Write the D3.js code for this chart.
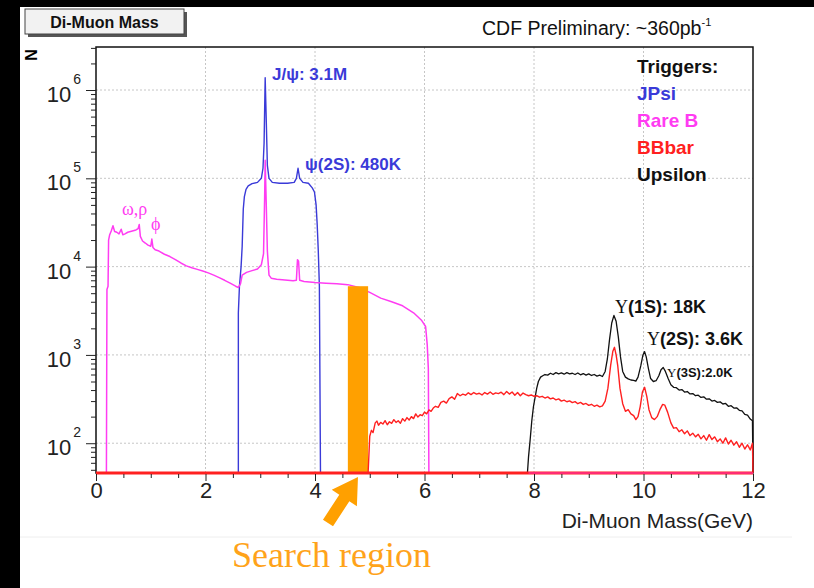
<!DOCTYPE html>
<html>
<head>
<meta charset="utf-8">
<script src="https://cdn.jsdelivr.net/npm/d3@7"></script>
<style>
body { margin: 0; background: #fff; }
svg { display: block; }
text { font-family: "Liberation Sans", Arial, sans-serif; }
</style>
</head>
<body>
<div id="chart"></div>
<script>
// ---- data: [mass GeV, entries per bin] ----
var jpsi = [[0,0],[2.6,0],[2.6,3000],[2.62,6000],[2.65,10000],[2.67,17000],[2.69,45000],[2.71,62000],[2.74,75000],[2.78,82000],[2.85,87000],[2.95,90000],[3.02,100000],[3.05,130000],[3.07,250000],[3.09,1380000],[3.11,450000],[3.13,140000],[3.16,100000],[3.22,90000],[3.35,88000],[3.5,88000],[3.62,90000],[3.66,100000],[3.69,130000],[3.72,100000],[3.78,90000],[3.88,88000],[3.95,78000],[3.99,70000],[4.02,50000],[4.04,30000],[4.06,15000],[4.08,6000],[4.1,0],[12,0]];

var rareB = [[0,0],[0.19,0],[0.2,5500],[0.22,6000],[0.23,20000],[0.25,23000],[0.28,25500],[0.31,29000],[0.34,25000],[0.38,24500],[0.42,23500],[0.46,26500],[0.49,23000],[0.53,23500],[0.58,24500],[0.63,25000],[0.68,25500],[0.73,26000],[0.77,27000],[0.79,30000],[0.81,22000],[0.85,19500],[0.9,18500],[0.95,17500],[1.0,17000],[1.02,20500],[1.04,16500],[1.08,15500],[1.15,15000],[1.25,13800],[1.35,13000],[1.45,12000],[1.55,11000],[1.65,10200],[1.75,9700],[1.85,9300],[1.95,8900],[2.05,8500],[2.15,8000],[2.25,7500],[2.35,7000],[2.45,6500],[2.55,6000],[2.6,5800],[2.64,6400],[2.67,8000],[2.75,8600],[2.85,9000],[2.95,9400],[3.02,10500],[3.06,14000],[3.08,60000],[3.09,160000],[3.11,50000],[3.13,15000],[3.16,8000],[3.2,7400],[3.3,7200],[3.4,7100],[3.5,7000],[3.6,6900],[3.66,7000],[3.68,12000],[3.7,11500],[3.72,7000],[3.8,6800],[3.9,6700],[4.0,6600],[4.2,6500],[4.4,6400],[4.6,6250],[4.8,5800],[5.0,5100],[5.2,4400],[5.4,4000],[5.6,3600],[5.8,3000],[5.95,2450],[6.02,2100],[6.05,1300],[6.07,700],[6.08,0],[12,0]];

var bbbar = [[0,0],[4.97,0],[5.0,120],[5.03,140],[5.06,132],[5.1,170],[5.13,178],[5.16,160],[5.2,172],[5.24,165],[5.28,180],[5.32,162],[5.36,175],[5.4,168],[5.44,185],[5.48,172],[5.52,180],[5.56,168],[5.6,190],[5.64,178],[5.68,195],[5.72,183],[5.76,200],[5.8,190],[5.84,215],[5.88,198],[5.92,210],[5.96,205],[6.0,225],[6.04,215],[6.08,238],[6.12,230],[6.16,250],[6.2,262],[6.25,255],[6.3,290],[6.35,300],[6.4,285],[6.45,320],[6.5,335],[6.55,315],[6.6,365],[6.65,345],[6.7,360],[6.75,350],[6.8,372],[6.85,355],[6.9,375],[6.95,360],[7.0,368],[7.05,352],[7.1,375],[7.15,360],[7.2,380],[7.25,358],[7.3,372],[7.35,365],[7.4,378],[7.45,355],[7.5,385],[7.55,360],[7.6,380],[7.65,350],[7.7,375],[7.75,345],[7.8,370],[7.85,355],[7.9,345],[7.95,352],[8.0,340],[8.05,345],[8.1,332],[8.15,340],[8.2,325],[8.25,335],[8.3,318],[8.35,325],[8.4,310],[8.45,318],[8.5,300],[8.55,308],[8.6,295],[8.65,302],[8.7,288],[8.75,296],[8.8,280],[8.85,290],[8.9,275],[8.95,282],[9.0,268],[9.05,276],[9.1,262],[9.15,270],[9.2,258],[9.25,265],[9.3,300],[9.35,420],[9.4,760],[9.44,1100],[9.47,1220],[9.5,1000],[9.53,750],[9.57,420],[9.62,280],[9.67,230],[9.72,240],[9.77,215],[9.82,205],[9.86,185],[9.9,200],[9.94,260],[9.98,380],[10.02,430],[10.06,340],[10.1,240],[10.15,195],[10.2,185],[10.25,200],[10.3,240],[10.35,275],[10.39,270],[10.44,225],[10.5,170],[10.55,148],[10.6,150],[10.65,135],[10.7,142],[10.75,128],[10.8,138],[10.85,122],[10.9,130],[10.95,118],[11.0,126],[11.05,112],[11.1,122],[11.15,108],[11.2,125],[11.25,110],[11.3,118],[11.35,104],[11.4,112],[11.45,100],[11.5,115],[11.55,98],[11.6,108],[11.65,95],[11.7,104],[11.75,90],[11.8,100],[11.85,86],[11.9,96],[11.95,84],[11.99,100],[12,0]];

var upsilon = [[0,0],[7.88,0],[7.9,70],[7.93,110],[7.96,180],[7.99,260],[8.02,330],[8.05,420],[8.08,500],[8.12,560],[8.16,580],[8.2,600],[8.25,590],[8.3,620],[8.35,600],[8.4,630],[8.45,610],[8.5,625],[8.55,605],[8.6,630],[8.65,610],[8.7,620],[8.75,600],[8.8,625],[8.85,595],[8.9,615],[8.95,590],[9.0,610],[9.05,585],[9.1,600],[9.15,575],[9.2,590],[9.25,570],[9.3,650],[9.34,900],[9.38,1500],[9.42,2300],[9.46,2800],[9.5,2400],[9.54,1600],[9.58,950],[9.62,650],[9.67,560],[9.72,535],[9.77,520],[9.82,515],[9.86,505],[9.9,560],[9.95,750],[9.99,1000],[10.02,1090],[10.05,950],[10.09,700],[10.13,540],[10.18,500],[10.23,510],[10.28,580],[10.32,680],[10.36,720],[10.4,650],[10.45,540],[10.5,460],[10.55,430],[10.6,425],[10.65,400],[10.7,405],[10.75,380],[10.8,385],[10.85,362],[10.9,365],[10.95,345],[11.0,350],[11.05,330],[11.1,335],[11.15,315],[11.2,318],[11.25,300],[11.3,305],[11.35,290],[11.4,294],[11.45,278],[11.5,282],[11.55,262],[11.6,266],[11.65,250],[11.7,252],[11.75,236],[11.8,232],[11.85,212],[11.9,208],[11.95,188],[11.99,180],[12,0]];

var searchRegion = [4.6, 4.97];   // GeV
var searchTop = 6000;

var xMajor = [0, 2, 4, 6, 8, 10, 12];
var yDecades = [100, 1000, 10000, 100000, 1000000];

var triggers = [
  {name: "JPsi", color: "#3a3ad8"},
  {name: "Rare B", color: "#ff3cf2"},
  {name: "BBbar", color: "#ff2020"},
  {name: "Upsilon", color: "#111111"}
];

// ---- layout ----
var W = 814, H = 588;
var margin = {top: 47, right: 61, bottom: 115, left: 96};
var width = W - margin.left - margin.right,
    height = H - margin.top - margin.bottom;

var svg = d3.select("#chart").append("svg")
  .attr("width", W).attr("height", H);

svg.append("rect").attr("width", W).attr("height", H).attr("fill", "#fff");
// black borders of the slide
svg.append("rect").attr("x", 0).attr("y", 0).attr("width", W).attr("height", 7).attr("fill", "#000");
svg.append("rect").attr("x", 0).attr("y", 0).attr("width", 20).attr("height", H).attr("fill", "#000");
svg.append("line").attr("x1", 20).attr("x2", 792).attr("y1", 537).attr("y2", 537)
  .attr("stroke", "#eeeeee").attr("stroke-width", 1);

var x = d3.scaleLinear().domain([0, 12]).range([0, width]);
var y = d3.scaleLog().domain([46, 3.07e6]).range([height, 0]).clamp(true);

var g = svg.append("g").attr("transform", "translate(" + margin.left + "," + margin.top + ")");

// grid
g.selectAll(".vgrid").data(xMajor.slice(1, -1)).enter().append("line")
  .attr("x1", function(d){ return x(d); }).attr("x2", function(d){ return x(d); })
  .attr("y1", 0).attr("y2", height)
  .attr("stroke", "#b8b8b8").attr("stroke-dasharray", "2,2").attr("stroke-width", 0.8);
g.selectAll(".hgrid").data(yDecades).enter().append("line")
  .attr("x1", 0).attr("x2", width)
  .attr("y1", function(d){ return y(d); }).attr("y2", function(d){ return y(d); })
  .attr("stroke", "#b8b8b8").attr("stroke-dasharray", "2,2").attr("stroke-width", 0.8);

// frame (under the histograms, as ROOT draws it)
g.append("rect").attr("width", width).attr("height", height)
  .attr("fill", "none").attr("stroke", "#111").attr("stroke-width", 1.5);

g.append("clipPath").attr("id", "clip").append("rect")
  .attr("x", 0).attr("y", -2).attr("width", width + 1).attr("height", height + 4);

var line = d3.line()
  .x(function(d){ return x(d[0]); })
  .y(function(d){ return d[1] > 0 ? y(d[1]) : height; });

var plot = g.append("g").attr("clip-path", "url(#clip)");

function drawSeries(data, color, w) {
  plot.append("path").datum(data)
    .attr("d", line)
    .attr("fill", "none")
    .attr("stroke", color)
    .attr("stroke-width", w)
    .attr("stroke-linejoin", "round");
}

drawSeries(jpsi, triggers[0].color, 1.4);
drawSeries(rareB, triggers[1].color, 1.5);

// search region bar
plot.append("rect")
  .attr("x", x(searchRegion[0]))
  .attr("width", x(searchRegion[1]) - x(searchRegion[0]))
  .attr("y", y(searchTop))
  .attr("height", height - y(searchTop) - 1)
  .attr("fill", "#ffa000");

drawSeries(upsilon, triggers[3].color, 1.3);
drawSeries(bbbar, triggers[2].color, 1.4);
// thick zero line along the axis
plot.append("line")
  .attr("x1", x(0)).attr("x2", x(12))
  .attr("y1", height).attr("y2", height)
  .attr("stroke", triggers[2].color).attr("stroke-width", 3);
plot.append("line")
  .attr("x1", x(7.9)).attr("x2", x(12))
  .attr("y1", height).attr("y2", height)
  .attr("stroke", triggers[1].color).attr("stroke-width", 1.2).attr("opacity", 0.8);

// x axis
var xMinor = d3.range(0.5, 12, 0.5).filter(function(d){ return d % 2 !== 0; });
g.append("g").attr("transform", "translate(0," + (height + 1) + ")")
  .call(d3.axisBottom(x).tickValues(xMinor).tickSize(4).tickFormat(""))
  .call(function(a){ a.select(".domain").remove(); a.selectAll("line").attr("stroke", "#222"); });
var xAx = g.append("g").attr("transform", "translate(0," + (height + 1) + ")")
  .call(d3.axisBottom(x).tickValues(xMajor).tickSize(7).tickFormat(d3.format("d")));
xAx.select(".domain").remove();
xAx.selectAll("line").attr("stroke", "#222");
xAx.selectAll("text").attr("y", 24).attr("dy", null)
  .style("font-family", "Liberation Sans, Arial, sans-serif")
  .style("font-size", "22px").attr("fill", "#222");

// y axis
var yMinor = [];
[10, 100, 1000, 10000, 100000, 1000000].forEach(function(dec){
  for (var k = 2; k <= 9; k++) {
    var v = k * dec;
    if (v >= 46 && v <= 3.07e6) yMinor.push(v);
  }
});
g.append("g")
  .call(d3.axisLeft(y).tickValues(yMinor).tickSize(5).tickFormat(""))
  .call(function(a){ a.select(".domain").remove(); a.selectAll("line").attr("stroke", "#222"); });
var yAx = g.append("g")
  .call(d3.axisLeft(y).tickValues(yDecades).tickSize(10).tickFormat(""));
yAx.select(".domain").remove();
yAx.selectAll("line").attr("stroke", "#222");

var yLab = g.selectAll(".ylab").data(yDecades).enter().append("text")
  .attr("x", -15).attr("y", function(d){ return y(d) + 12; })
  .attr("text-anchor", "end").attr("fill", "#222")
  .style("font-size", "22px");
yLab.append("tspan").text("10");
yLab.append("tspan").attr("dx", 2).attr("dy", -18).style("font-size", "14px")
  .text(function(d){ return Math.round(Math.log10(d)); });

// axis titles
svg.append("text").attr("transform", "translate(31,55) rotate(-90)")
  .attr("text-anchor", "middle").attr("dominant-baseline", "central")
  .style("font-size", "16px").style("font-weight", "bold").text("N");
svg.append("text").attr("x", margin.left + width).attr("y", 528)
  .attr("text-anchor", "end").style("font-size", "21px").attr("fill", "#222")
  .text("Di-Muon Mass(GeV)");

// title box
svg.append("rect").attr("x", 28).attr("y", 12).attr("width", 159).attr("height", 25).attr("fill", "#555");
svg.append("rect").attr("x", 25).attr("y", 9).attr("width", 159).attr("height", 25)
  .attr("fill", "#f2f2f2").attr("stroke", "#444").attr("stroke-width", 1);
svg.append("text").attr("x", 104.5).attr("y", 27.5).attr("text-anchor", "middle")
  .style("font-size", "16px").style("font-weight", "bold").attr("fill", "#111")
  .text("Di-Muon Mass");

var cdf = svg.append("text").attr("x", 482).attr("y", 35)
  .style("font-size", "19.5px").attr("fill", "#111");
cdf.append("tspan").text("CDF Preliminary: ~360pb");
cdf.append("tspan").attr("dy", -9).style("font-size", "11px").text("-1");

// legend
svg.append("text").attr("x", 637).attr("y", 73)
  .style("font-size", "19px").style("font-weight", "bold").attr("fill", "#111").text("Triggers:");
svg.selectAll(".leg").data(triggers).enter().append("text")
  .attr("x", 637).attr("y", function(d, i){ return 100 + i * 27; })
  .style("font-size", "19px").style("font-weight", "bold")
  .attr("fill", function(d){ return d.color; })
  .text(function(d){ return d.name; });

// peak annotations
function label(xp, yp, size, color, parts) {
  var t = svg.append("text").attr("x", xp).attr("y", yp)
    .style("font-size", size + "px").attr("fill", color);
  parts.forEach(function(p){
    var s = t.append("tspan").text(p.t);
    if (p.serif) s.style("font-family", "Liberation Serif, Times New Roman, serif").style("font-weight", "normal");
    else s.style("font-weight", p.w || "bold");
  });
  return t;
}
label(272, 80, 17, triggers[0].color, [{t: "J/ψ: 3.1M"}]);
label(305, 170, 17, triggers[0].color, [{t: "ψ(2S): 480K"}]);
label(122, 215, 18, triggers[1].color, [{t: "ω,ρ", serif: true}]);
label(151, 230, 18, triggers[1].color, [{t: "ϕ", serif: true}]);
label(615, 313, 18, "#111", [{t: "Υ", serif: true}, {t: "(1S): 18K"}]);
label(647, 345, 18, "#111", [{t: "Υ", serif: true}, {t: "(2S): 3.6K"}]);
label(667, 377, 13, "#111", [{t: "Υ", serif: true}, {t: "(3S):2.0K"}]);

// search region arrow and text
var tip = [margin.left + x((searchRegion[0] + searchRegion[1]) / 2), margin.top + height + 4];
var tail = [328, 523];
var dx = tip[0] - tail[0], dy = tip[1] - tail[1], len = Math.sqrt(dx * dx + dy * dy);
var ux = dx / len, uy = dy / len, nx = -uy, ny = ux;
var hl = 25, hw = 15, sw = 6;
var bx = tip[0] - ux * hl, by = tip[1] - uy * hl;
var pts = [
  [tail[0] + nx * sw, tail[1] + ny * sw],
  [bx + nx * sw, by + ny * sw],
  [bx + nx * hw, by + ny * hw],
  tip,
  [bx - nx * hw, by - ny * hw],
  [bx - nx * sw, by - ny * sw],
  [tail[0] - nx * sw, tail[1] - ny * sw]
];
svg.append("polygon").attr("points", pts.map(function(p){ return p.join(","); }).join(" "))
  .attr("fill", "#ffa000");
svg.append("text").attr("x", 232).attr("y", 567)
  .style("font-family", "Liberation Serif, Times New Roman, serif")
  .style("font-size", "36px").attr("fill", "#ffa31a").text("Search region");
</script>
</body>
</html>
